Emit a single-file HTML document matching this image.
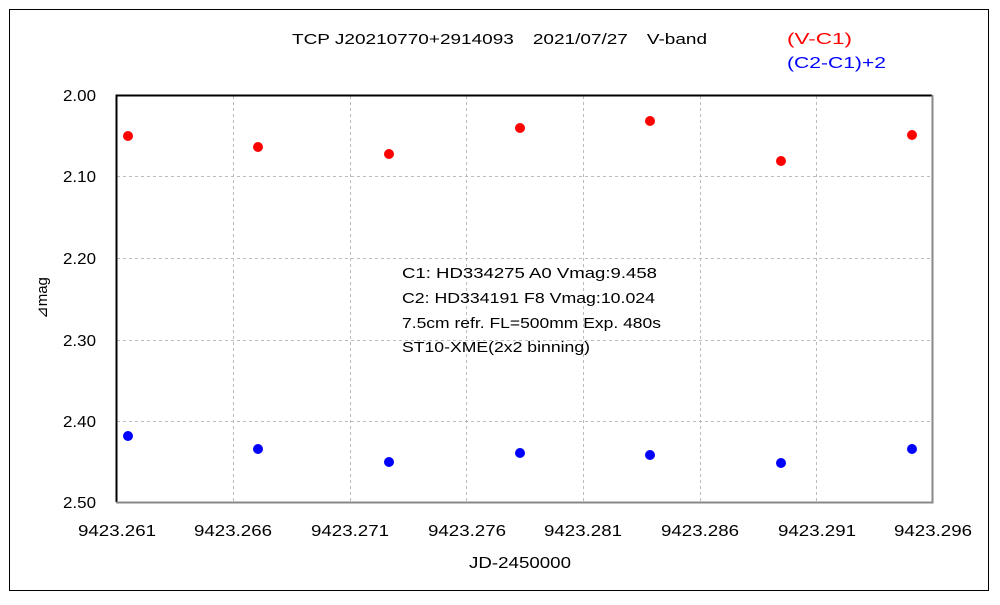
<!DOCTYPE html>
<html><head><meta charset="utf-8"><style>body{margin:0;background:#fff}</style></head><body>
<svg width="1000" height="600" xmlns="http://www.w3.org/2000/svg" font-family="Liberation Sans, sans-serif">
<rect x="0" y="0" width="1000" height="600" fill="#fff"/>
<rect x="9.5" y="9.5" width="979" height="581" fill="none" stroke="#000" stroke-width="1"/>
<g stroke="#bbb" stroke-dasharray="3,3" stroke-width="1">
<line x1="117" y1="176.5" x2="932" y2="176.5"/><line x1="117" y1="258.5" x2="932" y2="258.5"/>
<line x1="117" y1="340.5" x2="932" y2="340.5"/><line x1="117" y1="421.5" x2="932" y2="421.5"/>
<line x1="233.5" y1="96" x2="233.5" y2="502"/><line x1="350.5" y1="96" x2="350.5" y2="502"/>
<line x1="466.5" y1="96" x2="466.5" y2="502"/><line x1="583.5" y1="96" x2="583.5" y2="502"/>
<line x1="700.5" y1="96" x2="700.5" y2="502"/><line x1="816.5" y1="96" x2="816.5" y2="502"/>
</g>
<path d="M116.5 502 V95.5 H932" fill="none" stroke="#000" stroke-width="2"/>
<path d="M932.5 95 V502.5 H116" fill="none" stroke="#888" stroke-width="2"/>
<g font-size="16" fill="#000" text-anchor="end">
<text x="96" y="101" textLength="33" lengthAdjust="spacingAndGlyphs">2.00</text><text x="96" y="182" textLength="33" lengthAdjust="spacingAndGlyphs">2.10</text><text x="96" y="264" textLength="33" lengthAdjust="spacingAndGlyphs">2.20</text>
<text x="96" y="346" textLength="33" lengthAdjust="spacingAndGlyphs">2.30</text><text x="96" y="427" textLength="33" lengthAdjust="spacingAndGlyphs">2.40</text><text x="96" y="508" textLength="33" lengthAdjust="spacingAndGlyphs">2.50</text>
</g>
<g font-size="16" fill="#000" text-anchor="middle">
<text x="117" y="536" textLength="78" lengthAdjust="spacingAndGlyphs">9423.261</text><text x="233" y="536" textLength="78" lengthAdjust="spacingAndGlyphs">9423.266</text><text x="350" y="536" textLength="78" lengthAdjust="spacingAndGlyphs">9423.271</text>
<text x="467" y="536" textLength="78" lengthAdjust="spacingAndGlyphs">9423.276</text><text x="583" y="536" textLength="78" lengthAdjust="spacingAndGlyphs">9423.281</text><text x="700" y="536" textLength="78" lengthAdjust="spacingAndGlyphs">9423.286</text>
<text x="817" y="536" textLength="78" lengthAdjust="spacingAndGlyphs">9423.291</text><text x="933" y="536" textLength="78" lengthAdjust="spacingAndGlyphs">9423.296</text>
<text x="520" y="568" textLength="102" lengthAdjust="spacingAndGlyphs">JD-2450000</text>
</g>
<text transform="translate(47,298) rotate(-90)" font-size="15" text-anchor="middle">⊿mag</text>
<text x="292" y="44" font-size="15" textLength="415" lengthAdjust="spacingAndGlyphs">TCP J20210770+2914093　2021/07/27　V-band</text>
<text x="787" y="44" font-size="16" fill="#f00" textLength="65" lengthAdjust="spacingAndGlyphs">(V-C1)</text>
<text x="787" y="68" font-size="16" fill="#00f" textLength="99" lengthAdjust="spacingAndGlyphs">(C2-C1)+2</text>
<g font-size="15">
<text x="402" y="278" textLength="255" lengthAdjust="spacingAndGlyphs">C1: HD334275 A0  Vmag:9.458</text>
<text x="402" y="303" textLength="253" lengthAdjust="spacingAndGlyphs">C2: HD334191 F8   Vmag:10.024</text>
<text x="402" y="328" textLength="259" lengthAdjust="spacingAndGlyphs">7.5cm refr. FL=500mm Exp. 480s</text>
<text x="402" y="352" textLength="188" lengthAdjust="spacingAndGlyphs">ST10-XME(2x2 binning)</text>
</g>
<g fill="#f00">
<circle cx="128" cy="136" r="5"/><circle cx="258" cy="147" r="5"/><circle cx="389" cy="154" r="5"/>
<circle cx="520" cy="128" r="5"/><circle cx="650" cy="121" r="5"/><circle cx="781" cy="161" r="5"/><circle cx="912" cy="135" r="5"/>
</g>
<g fill="#00f">
<circle cx="128" cy="436" r="5"/><circle cx="258" cy="449" r="5"/><circle cx="389" cy="462" r="5"/>
<circle cx="520" cy="453" r="5"/><circle cx="650" cy="455" r="5"/><circle cx="781" cy="463" r="5"/><circle cx="912" cy="449" r="5"/>
</g>
</svg>
</body></html>
